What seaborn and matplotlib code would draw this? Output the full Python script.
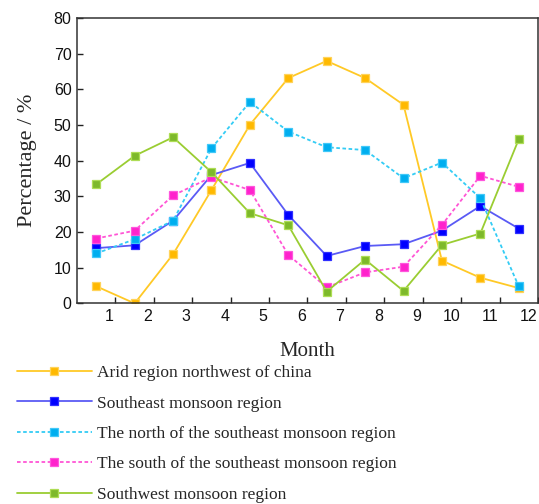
import matplotlib
matplotlib.use("Agg")
import matplotlib.pyplot as plt
import matplotlib.transforms as mtransforms
import seaborn as sns
import pandas as pd
import numpy as np

months = list(range(1, 13))
series_names = [
    "Arid region northwest of china",
    "Southeast monsoon region",
    "The north of the southeast monsoon region",
    "The south of the southeast monsoon region",
    "Southwest monsoon region",
]
arid = [4.8, 0.0, 13.8, 31.8, 50.1, 63.2, 68.0, 63.2, 55.7, 12.0, 7.2, 4.3]
southeast = [15.5, 16.3, 23.2, 36.0, 39.4, 24.8, 13.3, 16.1, 16.6, 20.4, 27.3, 21.0]
north_se = [14.0, 18.0, 23.2, 43.5, 56.5, 48.2, 43.8, 43.0, 35.1, 39.5, 29.5, 4.8]
south_se = [18.2, 20.4, 30.3, 35.4, 31.8, 13.6, 4.5, 8.7, 10.3, 22.0, 35.8, 32.7]
southwest = [33.4, 41.4, 46.6, 36.8, 25.3, 21.9, 3.3, 12.3, 3.5, 16.4, 19.6, 46.0]
yticks = [0, 10, 20, 30, 40, 50, 60, 70, 80]
xtick_labels = [str(m) for m in months]

values = [arid, southeast, north_se, south_se, southwest]
line_colors = ["#FFC926", "#5A5AF5", "#33CCF5", "#FF55D5", "#9ACD32"]
marker_faces = ["#FFB900", "#0000FF", "#00AEEF", "#FF22CC", "#7DB92A"]
marker_edges = ["#FFD35A", "#3030FF", "#40C8F8", "#FF55DD", "#AEDD55"]
dashed = [False, False, True, True, False]

rows = []
for name, vals in zip(series_names, values):
    for m, v in zip(months, vals):
        rows.append({"Month": m, "Percentage": v, "Region": name})
df = pd.DataFrame(rows)

sns.set_style("ticks")
plt.rcParams["font.family"] = ["Liberation Sans", "DejaVu Sans"]

fig = plt.figure(figsize=(5.39, 5.04), dpi=100)
ax = fig.add_axes([0.143, 0.398, 0.855, 0.566])

handles = []
for i, name in enumerate(series_names):
    sub = df[df["Region"] == name].copy()
    sub["pos"] = sub["Month"] - 0.5
    sns.lineplot(data=sub, x="pos", y="Percentage", ax=ax, color=line_colors[i],
                 linewidth=1.3, marker="s", markersize=6.2,
                 markerfacecolor=marker_faces[i], markeredgecolor=marker_edges[i],
                 markeredgewidth=0.9, label=name, legend=False)
    ln = ax.lines[-1]
    if dashed[i]:
        ln.set_linestyle((0, (2.0, 1.4)))
    handles.append(ln)

ax.set_xlim(0, 12)
ax.set_ylim(0, 80)
ax.set_xticks(months)
ax.set_xticklabels(xtick_labels)
ax.set_yticks(yticks)
ax.tick_params(axis="both", direction="in", length=4.5, width=1.0, color="#222222",
               labelsize=11.5, labelcolor="#111111")
ax.tick_params(axis="x", pad=4)
ax.tick_params(axis="y", pad=4)
ax.tick_params(top=False, right=False)
for s in ax.spines.values():
    s.set_visible(True)
    s.set_linewidth(1.1)
    s.set_color("#333333")

for k, lab in enumerate(ax.get_xticklabels()):
    shift = -6 if k < 9 else -9
    offset = mtransforms.ScaledTranslation(shift / 100, 0, fig.dpi_scale_trans)
    lab.set_transform(lab.get_transform() + offset)

ax.set_xlabel("Month", family=["Liberation Serif", "DejaVu Serif"], fontsize=15, labelpad=13)
ax.set_ylabel("Percentage / %", family=["Liberation Serif", "DejaVu Serif"], fontsize=16, labelpad=12)

leg = fig.legend(handles=handles, labels=series_names, loc="upper left",
                 bbox_to_anchor=(17 / 539, 1 - 365 / 504), frameon=False,
                 prop={"family": ["Liberation Serif", "DejaVu Serif"], "size": 12.5},
                 handlelength=4.3, handletextpad=0.3, labelspacing=0.82, borderpad=0,
                 borderaxespad=0)

fig.savefig("out.png", dpi=100)
